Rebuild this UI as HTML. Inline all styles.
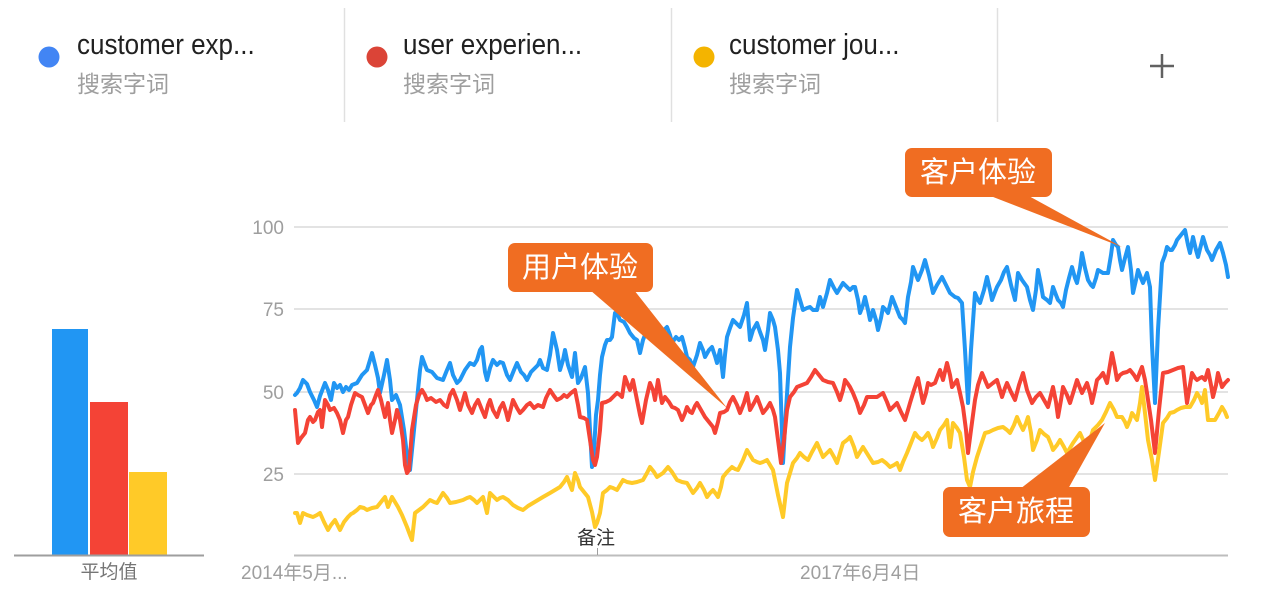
<!DOCTYPE html>
<html>
<head>
<meta charset="utf-8">
<style>
html,body{margin:0;padding:0;background:#fff;}
body{width:1288px;height:595px;overflow:hidden;position:relative;}
svg{position:absolute;left:0;top:0;}
</style>
</head>
<body>
<svg width="1288" height="595" viewBox="0 0 1288 595" xmlns="http://www.w3.org/2000/svg">
<!-- Legend -->
<g font-family="'Liberation Sans','Noto Sans CJK SC',sans-serif">
  <circle cx="49" cy="57" r="10.5" fill="#4285f4"/>
  <text transform="translate(77,54) scale(1,1.12)" x="0" y="0" font-size="26" fill="#212121">customer exp...</text>
  <text x="77" y="92" font-size="23" fill="#9e9e9e">搜索字词</text>
  <line x1="344.5" y1="8" x2="344.5" y2="122" stroke="#e0e0e0" stroke-width="1.5"/>
  <circle cx="377" cy="57" r="10.5" fill="#db4437"/>
  <text transform="translate(403,54) scale(1,1.12)" x="0" y="0" font-size="26" fill="#212121">user experien...</text>
  <text x="403" y="92" font-size="23" fill="#9e9e9e">搜索字词</text>
  <line x1="671.5" y1="8" x2="671.5" y2="122" stroke="#e0e0e0" stroke-width="1.5"/>
  <circle cx="704" cy="57" r="10.5" fill="#f4b400"/>
  <text transform="translate(729,54) scale(1,1.12)" x="0" y="0" font-size="26" fill="#212121">customer jou...</text>
  <text x="729" y="92" font-size="23" fill="#9e9e9e">搜索字词</text>
  <line x1="997.5" y1="8" x2="997.5" y2="122" stroke="#e0e0e0" stroke-width="1.5"/>
  <line x1="1150" y1="66" x2="1174" y2="66" stroke="#616161" stroke-width="2.5"/>
  <line x1="1162" y1="54" x2="1162" y2="78" stroke="#616161" stroke-width="2.5"/>
</g>

<!-- Bar chart -->
<rect x="52" y="329" width="36" height="226" fill="#2196f3"/>
<rect x="90" y="402" width="38" height="153" fill="#f44336"/>
<rect x="129" y="472" width="38" height="83" fill="#ffca28"/>
<line x1="14" y1="555.5" x2="204" y2="555.5" stroke="#9e9e9e" stroke-width="2"/>
<text x="109" y="578" font-size="19" fill="#757575" text-anchor="middle" font-family="'Liberation Sans','Noto Sans CJK SC',sans-serif">平均值</text>

<!-- Grid -->
<g stroke="#e3e3e3" stroke-width="2">
  <line x1="294" y1="227" x2="1228" y2="227"/>
  <line x1="294" y1="309" x2="1228" y2="309"/>
  <line x1="294" y1="392" x2="1228" y2="392"/>
  <line x1="294" y1="474" x2="1228" y2="474"/>
</g>
<line x1="294" y1="555.5" x2="1228" y2="555.5" stroke="#bdbdbd" stroke-width="2"/>
<line x1="597.5" y1="548" x2="597.5" y2="555" stroke="#9e9e9e" stroke-width="1"/>

<g font-family="'Liberation Sans','Noto Sans CJK SC',sans-serif" font-size="19" fill="#9e9e9e">
  <text x="284" y="234" text-anchor="end">100</text>
  <text x="284" y="316" text-anchor="end">75</text>
  <text x="284" y="399" text-anchor="end">50</text>
  <text x="284" y="481" text-anchor="end">25</text>
  <text x="241" y="579">2014年5月...</text>
  <text x="800" y="579">2017年6月4日</text>
</g>
<text x="577" y="544" font-size="19" fill="#333" font-family="'Liberation Sans','Noto Sans CJK SC',sans-serif">备注</text>

<!-- Series -->
<g fill="none" stroke-width="4" stroke-linejoin="round" stroke-linecap="round">
<polyline stroke="#2196f3" points="295,395 297,393 300,388 303,380 307,384 310,392 314,400 317,407 320,396 325,383 328,390 331,400 334,383 337,388 340,385 343,392 346,387 349,390 352,385 357,383 362,375 367,370 370,360 372,353 375,365 378,378 380,393 384,375 387,360 390,380 392,400 396,395 400,405 404,430 407,455 410,470 413,440 417,400 420,370 422,357 425,365 427,370 432,372 437,378 443,380 447,370 450,363 453,375 457,383 460,380 465,370 470,363 474,365 477,360 480,350 482,347 485,372 487,380 490,368 493,360 497,365 500,362 503,363 507,375 510,380 514,370 517,363 521,372 524,375 527,380 531,372 535,368 538,365 540,360 543,368 547,370 550,355 553,333 557,350 560,370 563,360 565,350 568,365 572,377 575,353 578,383 581,378 585,367 588,393 590,430 592,467 594,450 596,415 598,400 600,375 602,357 605,345 607,340 610,340 612,337 615,313 617,313 620,320 624,322 627,327 630,333 634,338 637,340 640,353 643,340 647,330 650,335 654,338 657,340 661,333 664,330 667,327 670,335 672,343 676,337 679,340 682,337 685,348 687,357 690,360 693,367 697,355 700,343 703,350 705,357 709,350 712,347 715,356 717,363 720,350 723,377 725,355 727,337 730,328 733,320 737,324 740,327 744,315 747,303 750,340 753,330 757,323 760,332 763,340 765,350 768,330 770,313 773,320 775,327 778,350 780,373 783,463 786,410 790,347 793,318 797,290 800,300 803,310 807,308 810,307 813,310 817,310 820,297 823,307 827,293 830,280 834,288 837,293 840,288 843,283 847,287 850,290 853,287 855,287 858,300 860,313 863,305 865,297 868,310 870,320 873,310 876,320 878,330 881,318 883,307 886,310 888,313 890,305 892,297 896,307 900,317 903,320 905,323 908,297 911,282 913,267 916,275 918,280 922,270 925,260 929,275 933,293 937,285 942,277 946,285 950,293 955,297 958,298 962,303 965,350 968,403 971,350 975,293 978,300 980,303 984,290 987,277 990,290 992,300 995,292 997,287 1001,280 1004,272 1007,267 1011,285 1015,300 1018,273 1022,280 1027,287 1030,300 1033,310 1036,290 1038,270 1041,285 1043,297 1047,300 1050,303 1053,287 1056,295 1058,300 1061,303 1063,307 1066,290 1069,278 1072,267 1075,278 1077,283 1080,268 1082,253 1085,268 1088,280 1091,285 1093,287 1096,278 1098,270 1103,273 1108,273 1111,255 1113,240 1116,245 1118,247 1120,260 1122,270 1125,258 1128,247 1131,270 1133,293 1136,280 1138,270 1141,278 1143,283 1145,278 1147,273 1150,287 1152,345 1155,403 1158,330 1162,263 1165,255 1167,247 1170,250 1172,250 1175,245 1177,240 1181,235 1185,230 1188,245 1190,253 1193,237 1196,250 1198,257 1201,245 1203,237 1207,250 1210,255 1212,260 1216,250 1220,243 1223,253 1226,265 1228,277"/>
<polyline stroke="#f44336" points="295,410 298,443 301,438 305,433 308,420 310,417 313,422 315,420 318,412 320,410 322,427 325,400 328,405 330,410 334,408 337,413 340,420 343,433 346,420 348,417 351,405 355,393 358,395 362,397 365,405 368,413 371,405 373,403 376,395 378,390 381,400 385,417 388,403 390,420 392,433 395,420 397,410 400,420 403,440 405,465 407,473 409,470 412,430 416,405 419,395 422,390 425,395 427,400 431,398 436,402 440,400 444,405 447,407 450,395 453,390 457,400 460,410 463,400 465,393 468,405 472,413 475,405 478,400 482,410 485,417 488,405 490,400 493,410 497,417 500,408 503,403 506,412 508,420 511,408 513,400 517,408 520,413 523,410 527,405 530,403 534,408 538,405 543,407 546,398 550,390 554,396 557,400 561,398 564,395 567,397 571,393 575,390 578,405 580,417 584,418 587,420 590,440 593,460 595,465 597,457 600,430 602,403 606,402 610,400 614,396 617,393 620,395 622,397 625,377 628,385 630,390 633,380 637,400 640,415 642,423 646,400 650,383 653,390 655,400 658,380 660,392 662,403 665,397 669,402 672,407 675,408 678,410 682,420 685,413 687,407 690,412 692,413 695,406 697,403 701,410 705,417 709,422 713,427 715,433 718,422 720,413 724,412 727,410 730,402 733,397 737,405 740,413 744,403 747,393 750,410 754,403 757,397 760,405 763,413 767,408 770,403 773,410 775,417 778,440 781,463 784,440 787,410 790,397 794,392 797,387 802,385 807,383 811,377 815,370 819,375 823,380 828,382 833,383 837,392 840,400 843,390 845,380 848,384 850,387 853,393 857,403 860,413 864,405 867,397 872,397 877,397 880,395 883,393 887,402 890,410 894,406 897,403 901,412 905,420 908,410 910,403 914,390 918,378 920,388 923,403 926,393 928,383 931,385 935,383 938,375 940,370 943,380 947,363 950,375 952,387 955,383 957,380 960,393 963,407 966,430 968,453 971,430 975,400 978,385 982,373 985,380 988,387 993,383 997,380 1000,390 1002,397 1005,388 1007,383 1011,392 1015,400 1019,385 1023,373 1027,390 1032,403 1036,397 1040,393 1044,400 1048,407 1051,395 1053,387 1056,402 1058,417 1061,400 1063,387 1067,395 1070,403 1074,390 1077,380 1080,388 1082,393 1085,387 1087,383 1090,393 1092,403 1095,390 1097,380 1100,377 1103,373 1107,383 1110,365 1112,353 1115,368 1117,380 1120,375 1123,373 1127,372 1130,370 1134,375 1137,380 1140,372 1142,367 1145,380 1147,393 1151,420 1155,453 1159,410 1163,373 1168,372 1173,370 1178,368 1183,367 1185,385 1187,403 1190,385 1192,373 1195,378 1197,380 1200,378 1202,377 1205,380 1208,370 1211,385 1213,397 1216,385 1218,373 1220,380 1222,387 1225,383 1228,380"/>
<polyline stroke="#ffca28" points="295,513 297,513 300,523 303,513 307,515 310,516 313,517 317,515 320,513 324,522 328,530 331,525 335,520 338,526 340,530 344,522 348,517 351,514 353,513 357,510 360,507 364,508 367,510 372,508 377,507 381,502 385,497 388,507 392,497 395,502 398,507 402,515 407,527 410,535 412,540 415,513 419,510 423,507 427,503 430,500 434,502 437,503 440,498 443,493 447,498 450,503 456,502 463,500 467,498 470,497 474,500 477,503 480,500 483,497 485,505 487,513 490,493 494,497 497,500 500,498 503,497 508,500 513,505 518,508 523,510 528,506 533,503 538,500 543,497 550,493 555,490 560,487 564,482 567,477 570,485 572,490 575,473 578,480 580,487 584,492 588,497 592,512 595,527 597,523 600,513 603,493 607,490 610,487 613,488 617,490 620,485 623,480 627,482 632,483 637,482 643,480 647,473 650,467 654,472 657,477 660,475 663,473 668,467 672,472 677,480 682,482 687,483 690,488 693,493 697,488 700,483 704,490 707,497 710,493 713,490 716,494 718,497 721,487 723,477 727,472 732,467 735,469 738,470 743,460 747,450 750,455 753,460 757,462 760,463 763,462 767,460 770,465 773,470 778,495 783,517 787,483 790,473 793,463 797,458 800,453 804,457 808,460 812,452 817,443 820,450 823,457 827,453 830,450 834,457 837,463 840,453 843,443 847,440 850,437 854,447 857,457 860,452 863,447 868,455 873,463 878,462 882,460 886,463 890,467 894,465 897,463 900,470 903,462 907,453 911,443 915,433 918,437 922,440 925,437 928,433 931,440 933,447 937,438 940,430 944,425 947,420 950,447 953,423 957,428 960,433 964,457 967,480 970,487 973,472 977,457 981,445 985,433 989,432 993,430 998,428 1003,427 1007,430 1010,433 1014,425 1017,417 1020,424 1023,430 1026,423 1028,417 1031,433 1033,450 1037,440 1040,430 1044,434 1048,437 1051,444 1053,450 1057,445 1060,440 1064,447 1067,453 1073,443 1080,433 1084,442 1087,450 1090,440 1093,430 1098,425 1102,420 1106,412 1110,403 1114,410 1117,417 1122,417 1125,422 1127,427 1130,420 1132,413 1135,417 1137,420 1140,403 1142,387 1145,413 1148,440 1152,460 1155,480 1159,452 1163,423 1167,418 1170,413 1174,412 1177,410 1181,408 1185,407 1190,407 1194,400 1197,393 1200,398 1202,403 1205,390 1208,420 1212,420 1215,420 1219,413 1222,407 1225,412 1227,417"/>
</g>

<!-- Callouts -->
<g fill="#f06d22">
  <polygon points="590,290 634,290 727,408"/>
  <rect x="508" y="243" width="145" height="49" rx="7"/>
  <polygon points="988,195 1027,195 1122,247"/>
  <rect x="905" y="148" width="147" height="49" rx="7"/>
  <polygon points="1020,489 1068,489 1105,423"/>
  <rect x="943" y="487" width="147" height="50" rx="7"/>
</g>
<g font-family="'Liberation Sans','Noto Sans CJK SC',sans-serif" font-size="29" fill="#ffffff" text-anchor="middle">
  <text x="580" y="277">用户体验</text>
  <text x="978" y="182">客户体验</text>
  <text x="1016" y="521">客户旅程</text>
</g>
</svg>
</body>
</html>
